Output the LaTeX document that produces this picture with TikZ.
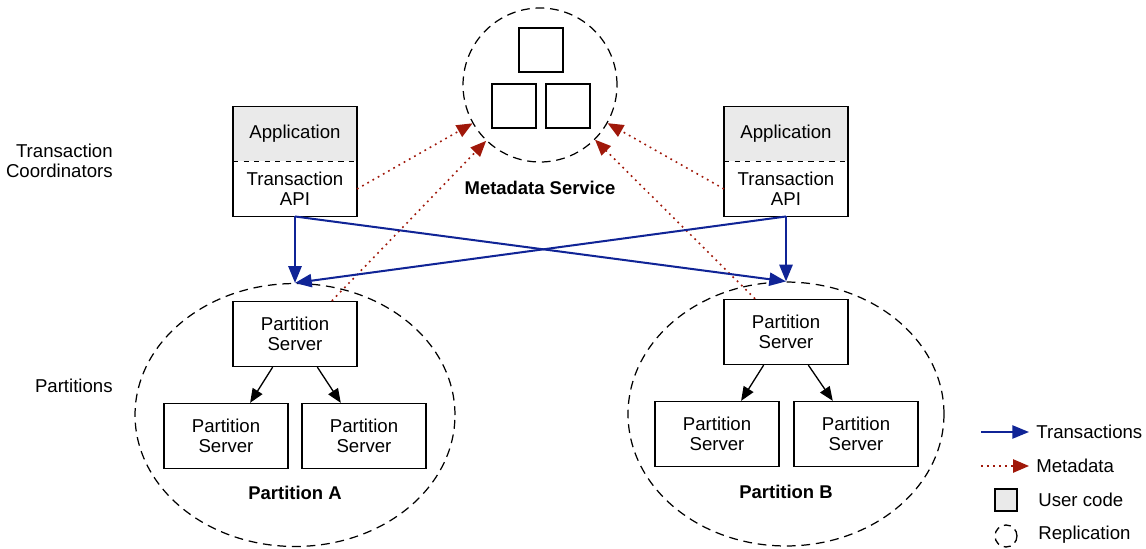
\documentclass[tikz,border=0pt]{standalone}
\usepackage{fontspec}
\setmainfont{Liberation Sans}
\usetikzlibrary{positioning,shapes.geometric,arrows.meta}

\definecolor{txblue}{RGB}{16,36,150}
\definecolor{mdred}{RGB}{160,24,10}
\definecolor{usergray}{RGB}{234,234,234}

\tikzset{
  boxline/.style={draw, line width=0.75pt},
  srvbox/.style={boxline, minimum width=2.48cm, minimum height=1.3cm, align=center, inner sep=0pt},
  appbox/.style={fill=usergray, minimum width=2.48cm, minimum height=1.1cm, inner sep=0pt, outer sep=0pt},
  apibox/.style={minimum width=2.48cm, minimum height=1.1cm, align=center, inner sep=0pt, outer sep=0pt},
  sqbox/.style={boxline, minimum size=0.88cm, inner sep=0pt},
  replring/.style={draw, line width=0.7pt, dash pattern=on 5pt off 3.3pt, inner sep=0pt},
  grplbl/.style={font=\fontsize{10.5}{11.5}\selectfont\bfseries},
  legtxt/.style={anchor=west, inner sep=0pt},
  txarrow/.style={draw=txblue, line width=1.15pt, -{Triangle[length=9.5pt,width=7.5pt]}},
  mdarrow/.style={draw=mdred, line width=0.9pt, dash pattern=on 1pt off 2.4pt, -{Triangle[length=9pt,width=7.5pt]}},
  psarrow/.style={draw, line width=0.75pt, -{Triangle[length=8pt,width=6.5pt]}}
}

\begin{document}
\begin{tikzpicture}[x=0.02cm, y=-0.02cm, font=\fontsize{10.6}{11.3}\selectfont]
\useasboundingbox (0,0) rectangle (1146,548);

% metadata service
\node[replring, circle, minimum size=3.08cm] (meta) at (540,85) {};
\node[sqbox] (sqTop) at (541,50) {};
\node[sqbox] (sqLeft) at (514,106) {};
\node[sqbox] (sqRight) at (568,106) {};
\node[grplbl] (metaLbl) at (540,188) {Metadata Service};

% transaction coordinators
\node[appbox] (appL) at (295,134) {Application};
\node[apibox, below=0pt of appL] (apiL) {Transaction\\API};
\draw[boxline] (appL.north west) rectangle (apiL.south east);
\draw[dashed, line width=0.75pt] (appL.south west) -- (appL.south east);

\node[appbox] (appR) at (786,134) {Application};
\node[apibox, below=0pt of appR] (apiR) {Transaction\\API};
\draw[boxline] (appR.north west) rectangle (apiR.south east);
\draw[dashed, line width=0.75pt] (appR.south west) -- (appR.south east);

\node[anchor=east, align=right, inner sep=0pt] (tcLbl) at (113,161) {Transaction\\Coordinators};
\node[anchor=east, inner sep=0pt] (partLbl) at (113,386) {Partitions};

% partitions
\node[replring, ellipse, minimum width=6.4cm, minimum height=5.26cm] (partA) at (295,415) {};
\node[srvbox] (psA) at (295,334) {Partition\\Server};
\node[srvbox] (psA1) at (226,436) {Partition\\Server};
\node[srvbox] (psA2) at (364,436) {Partition\\Server};
\node[grplbl] (partALbl) at (295,493) {Partition A};

\node[replring, ellipse, minimum width=6.32cm, minimum height=5.28cm] (partB) at (786,414) {};
\node[srvbox] (psB) at (786,332) {Partition\\Server};
\node[srvbox] (psB1) at (717,434) {Partition\\Server};
\node[srvbox] (psB2) at (856,434) {Partition\\Server};
\node[grplbl] (partBLbl) at (786,492) {Partition B};

\draw[psarrow] (psA.-124) -- (psA1.54);
\draw[psarrow] (psA.-56) -- (psA2.125);
\draw[psarrow] (psB.-124) -- (psB1.54);
\draw[psarrow] (psB.-56) -- (psB2.125);

% metadata lookups
\draw[mdarrow] (apiL.east) -- (meta);
\draw[mdarrow] (psA.42) -- (meta);
\draw[mdarrow] (apiR.west) -- (meta);
\draw[mdarrow] (psB.133) -- (meta);

% transactions
\draw[txarrow] (apiL.south) -- (partA.north);
\draw[txarrow] (apiL.south) -- (partB.north);
\draw[txarrow] (apiR.south) -- (partA.north);
\draw[txarrow] (apiR.south) -- (partB.north);

% legend
\coordinate (txFrom) at (981,432);
\coordinate (txTo) at (1029,432);
\draw[txarrow] (txFrom) -- (txTo);
\node[legtxt] (txLbl) at (1036,432) {Transactions};
\coordinate (mdFrom) at (981,466);
\coordinate (mdTo) at (1029,466);
\draw[mdarrow] (mdFrom) -- (mdTo);
\node[legtxt] (mdLbl) at (1036,466) {Metadata};
\node[sqbox, fill=usergray, minimum size=0.44cm] (ucKey) at (1006,500) {};
\node[legtxt] (ucLbl) at (1038,500) {User code};
\node[draw, circle, line width=0.75pt, dash pattern=on 4pt off 3pt, minimum size=0.44cm, inner sep=0pt] (repKey) at (1006,536) {};
\node[legtxt] (repLbl) at (1038,535) {Replication};
\end{tikzpicture}
\end{document}
